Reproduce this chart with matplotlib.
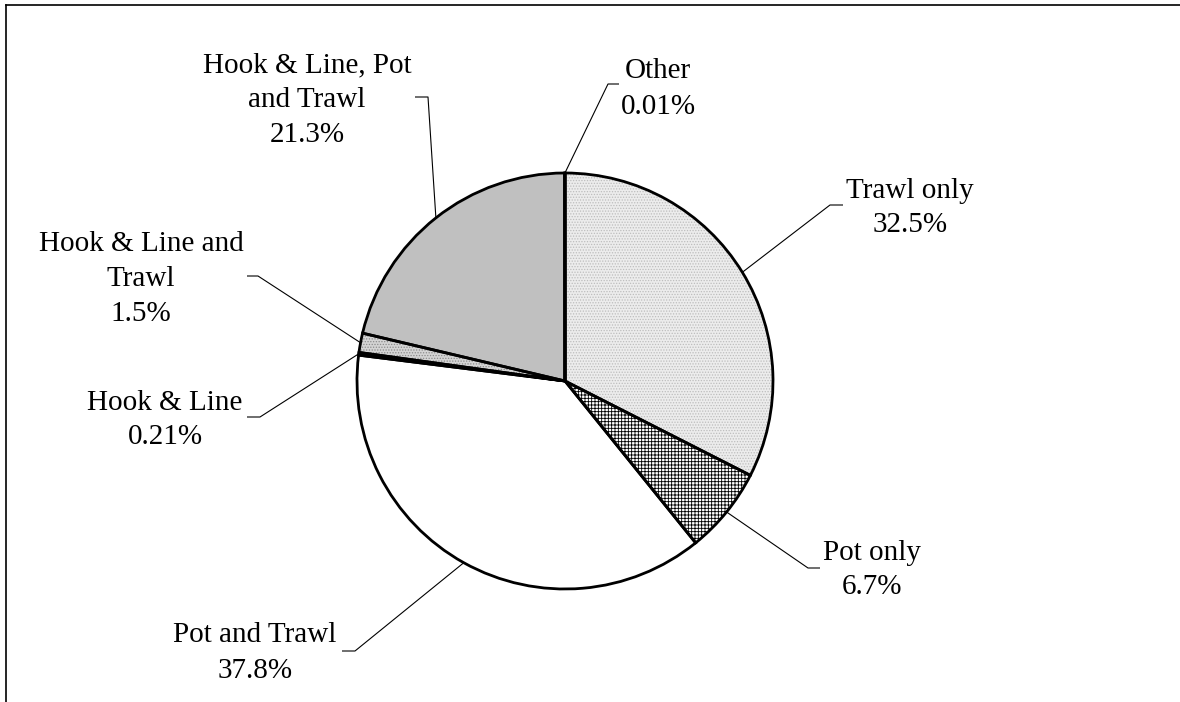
import numpy as np
import matplotlib
matplotlib.use("Agg")
import matplotlib.pyplot as plt

plt.rcParams["font.family"] = ["Liberation Serif", "DejaVu Serif"]
plt.rcParams["hatch.linewidth"] = 0.6

# Share of vessels by gear combination
categories = ["Trawl only", "Pot only", "Pot and Trawl", "Hook & Line",
              "Hook & Line and\nTrawl", "Hook & Line, Pot\nand Trawl", "Other"]
shares = [32.5, 6.7, 37.8, 0.21, 1.5, 21.3, 0.01]

# Fill styles per slice: (face, hatch, hatch colour)
fills = [
    ("#ececec", "......", "#bdbdbd"),
    ("#ffffff", "+++++", "#000000"),
    ("#ffffff", None, "#ffffff"),
    ("#000000", None, "#000000"),
    ("#d4d4d4", "......", "#8c8c8c"),
    ("#c0c0c0", None, "#c0c0c0"),
    ("#ffffff", None, "#ffffff"),
]

W, H = 1180, 702
fig = plt.figure(figsize=(W / 100, H / 100), dpi=100)
ax = fig.add_axes([0, 0, 1, 1])


def Y(py):
    return H - py


center = (565, Y(381))
radius = 208

# filled wedges (hatch drawn in the wedge edge colour, so no outline here)
wedges, _ = ax.pie(shares, center=center, radius=radius, startangle=90,
                   counterclock=False, frame=True,
                   wedgeprops=dict(linewidth=0))
for w, (fc, hatch, hc) in zip(wedges, fills):
    w.set_facecolor(fc)
    w.set_edgecolor(hc)
    if hatch:
        w.set_hatch(hatch)

# black outlines on top
outl, _ = ax.pie(shares, center=center, radius=radius, startangle=90,
                 counterclock=False, frame=True,
                 wedgeprops=dict(facecolor="none", edgecolor="black",
                                 linewidth=2.0))
ax.set_xlim(0, W)
ax.set_ylim(0, H)
ax.set_aspect("equal")
ax.axis("off")

# label block centres, leader elbow and leader end (pixel coordinates)
label_pos = [(910, 208), (872, 570), (255, 653), (165, 420),
             (141, 279), (307, 100), (658, 89)]
elbows = [(830, 205), (808, 568), (355, 651), (260, 417),
          (258, 276), (428, 97), (608, 84)]
ends = [(843, 205), (820, 568), (342, 651), (247, 417),
        (247, 276), (415, 97), (619, 84)]

for w, cat, val, (lx, ly), (ex, ey), (tx, ty) in zip(
        outl, categories, shares, label_pos, elbows, ends):
    mid = np.deg2rad((w.theta1 + w.theta2) / 2)
    px = center[0] + radius * np.cos(mid)
    py = center[1] + radius * np.sin(mid)
    ax.plot([px, ex, tx], [py, Y(ey), Y(ty)], color="black", lw=0.8,
            zorder=1, solid_capstyle="butt")
    ax.text(lx, Y(ly), f"{cat}\n{val:g}%", ha="center", va="center",
            fontsize=21, linespacing=1.45)

# frame edges
ax.plot([6, W], [Y(5), Y(5)], color="black", lw=1.2, clip_on=False)
ax.plot([6, 6], [Y(5), 0], color="black", lw=1.2, clip_on=False)

fig.savefig("out.png", dpi=100)
